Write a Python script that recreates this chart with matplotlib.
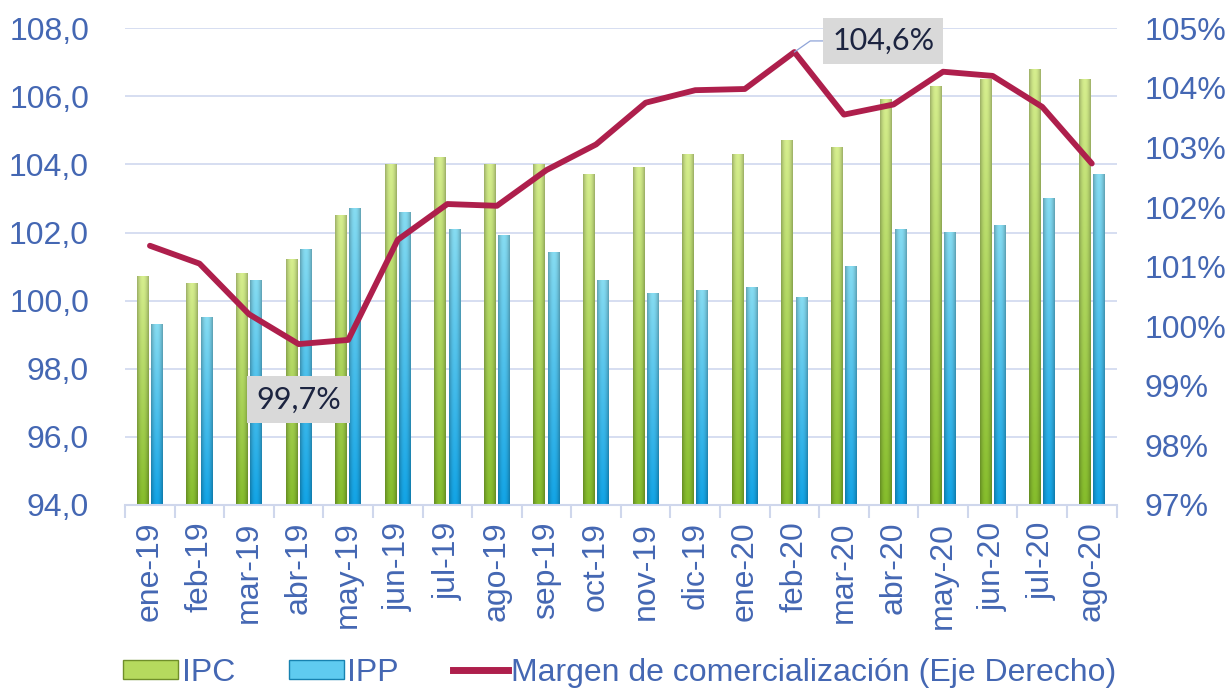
import numpy as np
import matplotlib
matplotlib.use("Agg")
import matplotlib.pyplot as plt
from matplotlib.patches import Rectangle
from matplotlib.lines import Line2D
from matplotlib.colors import to_rgb

# Data
meses = ["ene-19", "feb-19", "mar-19", "abr-19", "may-19", "jun-19", "jul-19", "ago-19",
         "sep-19", "oct-19", "nov-19", "dic-19", "ene-20", "feb-20", "mar-20", "abr-20",
         "may-20", "jun-20", "jul-20", "ago-20"]
ipc    = [100.7, 100.5, 100.8, 101.2, 102.5, 104.0, 104.2, 104.0, 104.0, 103.7,
          103.9, 104.3, 104.3, 104.7, 104.5, 105.9, 106.3, 106.5, 106.8, 106.5]
ipp    = [ 99.3,  99.5, 100.6, 101.5, 102.7, 102.6, 102.1, 101.9, 101.4, 100.6,
          100.2, 100.3, 100.4, 100.1, 101.0, 102.1, 102.0, 102.2, 103.0, 103.7]
margen = [101.35, 101.05, 100.2, 99.7, 99.77, 101.45, 102.05, 102.02, 102.62, 103.05,
          103.75, 103.96, 103.98, 104.6, 103.55, 103.72, 104.27, 104.2, 103.68, 102.73]

plt.rcParams["font.family"] = ["Liberation Sans", "DejaVu Sans"]
blue_txt = "#4467B3"
line_col = "#AE1F4C"

fig = plt.figure(figsize=(12.27, 6.88), dpi=100)
ax = fig.add_axes([0.102, 0.266, 0.808, 0.693])
ax2 = ax.twinx()

x = np.arange(len(meses))
w = 0.24
off = 0.145


def grad_bar(axis, xc, top, base, c_top, c_bot):
    # vertical light->dark gradient with darker edges, like the 3D bars
    ny, nx = 60, 16
    ty = np.linspace(0, 1, ny)[:, None, None]
    tx = np.linspace(-1, 1, nx)[None, :, None]
    ct = np.array(to_rgb(c_top))
    cb = np.array(to_rgb(c_bot))
    img = ct * (1 - ty) + cb * ty
    img = img * (1 - 0.25 * tx ** 2)
    img = np.clip(img, 0, 1)
    axis.imshow(img, extent=[xc - w / 2, xc + w / 2, base, top], origin="upper",
                aspect="auto", zorder=2, interpolation="bilinear")


for i in range(len(meses)):
    grad_bar(ax, x[i] - off, ipc[i], 94, "#d6ee8e", "#86bd2c")
    grad_bar(ax, x[i] + off, ipp[i], 94, "#86dcf2", "#12a4e6")

ax.set_xlim(-0.5, len(meses) - 0.5)
ax.set_ylim(94, 108)
ax.set_yticks(np.arange(94, 108.1, 2))
ax.set_yticklabels([f"{v:.1f}".replace(".", ",") for v in np.arange(94, 108.1, 2)])
ax.grid(axis="y", color="#d3dbf0", lw=1.3)
ax.set_axisbelow(True)

ax.set_xticks(x)
ax.set_xticklabels(meses, rotation=90, va="top")
ax.set_xticks(np.arange(-0.5, len(meses), 1), minor=True)
ax.tick_params(axis="x", which="major", length=0, pad=12, labelsize=23, labelcolor=blue_txt)
ax.tick_params(axis="x", which="minor", length=9, width=1.5, color="#cfd7ec")
ax.tick_params(axis="y", length=0, pad=26, labelsize=23, labelcolor=blue_txt)

for a in (ax, ax2):
    for s in ("top", "left", "right"):
        a.spines[s].set_visible(False)
ax.spines["bottom"].set_color("#cfd7ec")
ax.spines["bottom"].set_linewidth(1.5)
ax2.spines["bottom"].set_visible(False)

ax2.plot(x, margen, color=line_col, lw=4.2, solid_joinstyle="round", solid_capstyle="round", zorder=5)
ax2.set_ylim(97, 105)
ax2.set_yticks(np.arange(97, 105.1, 1))
ax2.set_yticklabels([f"{int(v)}%" for v in np.arange(97, 105.1, 1)])
ax2.tick_params(axis="y", length=0, pad=20, labelsize=23, labelcolor=blue_txt)

box = dict(boxstyle="square,pad=0.3", fc="#d9d9d9", ec="none")
ax2.annotate("104,6%", xy=(13, 104.6), xytext=(64, 8), textcoords="offset points",
             ha="center", va="center", fontsize=22, family="Lato", color="#1c2440",
             bbox=box, zorder=6,
             arrowprops=dict(arrowstyle="-", color="#8fa4d8", lw=0.9,
                             connectionstyle="angle,angleA=0,angleB=35,rad=0", shrinkA=0, shrinkB=0))
ax2.annotate("99,7%", xy=(3, 99.7), xytext=(0, -40), textcoords="offset points",
             ha="center", va="center", fontsize=22, family="Lato", color="#1c2440",
             bbox=box, zorder=6)

handles = [Rectangle((0, 0), 1, 1, fc="#b5da5e", ec="#6f8f2a", lw=1),
           Rectangle((0, 0), 1, 1, fc="#5fcbf0", ec="#1782b0", lw=1),
           Line2D([0], [0], color=line_col, lw=5)]
fig.legend(handles, ["IPC", "IPP", "Margen de comercialización (Eje Derecho)"],
           loc="lower left", bbox_to_anchor=(0.098, -0.004), ncol=3, frameon=False,
           borderaxespad=0, borderpad=0.1,
           fontsize=23, labelcolor=blue_txt, handlelength=1.7, handleheight=0.55,
           handletextpad=0.12, columnspacing=1.7)

fig.savefig("out.png", dpi=100)
